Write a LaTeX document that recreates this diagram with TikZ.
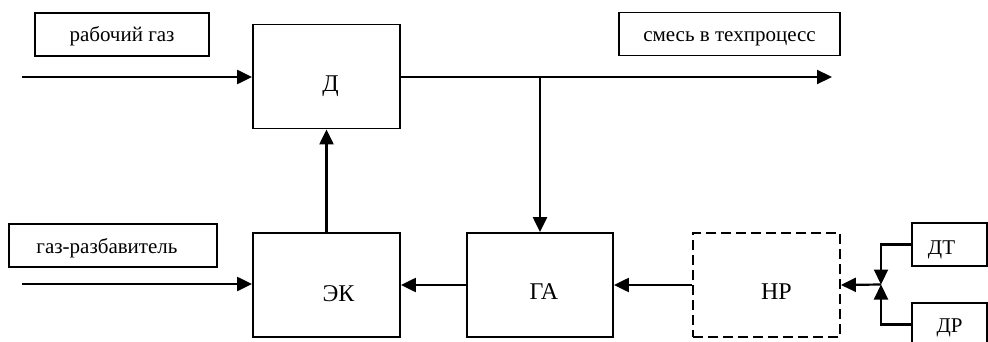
\documentclass[tikz,border=0pt]{standalone}
\usepackage{fontspec}
\setmainfont{Liberation Serif}
\usetikzlibrary{arrows.meta}

\tikzset{
  blk/.style={draw, line width=1.8pt, minimum width=147pt, minimum height=104pt, inner sep=0pt},
  tag/.style={draw, line width=1.8pt, minimum height=43pt, inner sep=0pt, text height=15pt, text depth=0pt},
  flow/.style={line width=2.2pt, -{Triangle[length=15pt,width=14pt]}},
  every label/.style={font=\fontsize{24}{28}\selectfont},
}

\begin{document}
\begin{tikzpicture}[x=1pt, y=-1pt, font=\fontsize{21}{24}\selectfont]
  \useasboundingbox (0,0) rectangle (988,342);
  \clip (0,0) rectangle (988,342);

  % blocks
  \node[blk, label={[xshift=4pt,yshift=-10pt]center:Д}] (d) at (326.5,76.5) {};
  \node[blk, label={[xshift=12pt,yshift=-9pt]center:ЭК}] (ek) at (326.5,285) {};
  \node[blk, minimum width=146pt, label={[xshift=4pt,yshift=-7pt]center:ГА}] (ga) at (540,285) {};
  \node[blk, dash pattern=on 10pt off 5pt, label={[xshift=10pt,yshift=-7pt]center:НР}] (nr) at (766.5,285) {};

  % text boxes
  \node[tag, minimum width=174pt] (w1) at (122,34.5) {рабочий газ};
  \node[tag, minimum width=221pt] (w2) at (729.5,34) {смесь в техпроцесс};
  \node[tag, minimum width=208pt] (w3) at (113,245.5) {\hspace*{-12pt}газ-разбавитель};
  \node[tag, minimum width=75pt, text height=19pt] (dt) at (949.5,244.5) {\hspace*{-16pt}ДТ};
  \node[tag, minimum width=75pt] (dr) at (949.5,324.5) {ДР};

  \coordinate (in1) at (22,77);
  \coordinate (in2) at (22,284);
  \coordinate (out) at (832,77);
  \coordinate (j) at (881,284.5);

  \draw[flow] (in1) -- (in1 -| d.west);
  \draw[flow] (d.east |- out) -- (out);
  \draw[flow] (ga.north |- out) -- (ga.north);
  \draw[flow] (ek.north) -- (d.south);
  \draw[flow] (in2) -- (in2 -| ek.west);
  \draw[flow] (ga.west) -- (ek.east);
  \draw[flow] (nr.west) -- (ga.east);
  \draw[flow] (j) -- (nr.east);
  \draw[flow] (dt.west) -| (j);
  \draw[flow] (dr.west) -| (j);
\end{tikzpicture}
\end{document}
